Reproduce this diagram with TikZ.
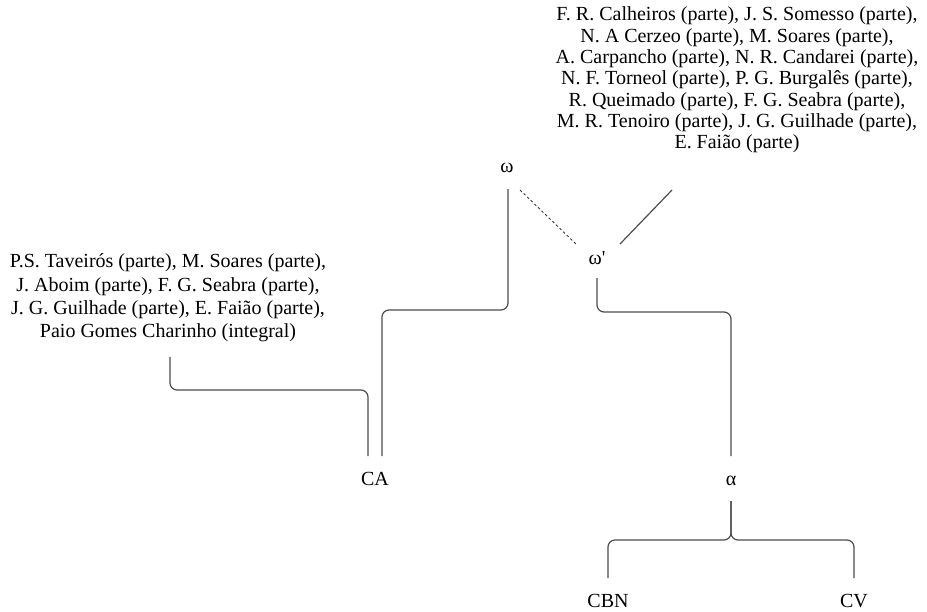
\documentclass[tikz,border=0pt]{standalone}
\usepackage{fontspec}
\setmainfont{Liberation Serif}
\usetikzlibrary{calc}
\begin{document}
\begin{tikzpicture}[x=1pt,y=-1pt,
  every node/.style={font=\fontsize{20}{21.3}\selectfont, inner sep=0pt},
  lbl/.style={align=center},
  link/.style={draw=black!70, line width=1.2pt, rounded corners=7pt},
  guess/.style={draw=black!80, line width=0.9pt, dash pattern=on 2.5pt off 2.5pt}]
\useasboundingbox (0,0) rectangle (927,611);

% labels
\node[lbl] (sources) at (737,80) {F. R. Calheiros (parte), J. S. Somesso (parte),\\
  N. A Cerzeo (parte), M. Soares (parte),\\
  A. Carpancho (parte), N. R. Candarei (parte),\\
  N. F. Torneol (parte), P. G. Burgalês (parte),\\
  R. Queimado (parte), F. G. Seabra (parte),\\
  M. R. Tenoiro (parte), J. G. Guilhade (parte),\\
  E. Faião (parte)};
\node (omega) at (507,168) {ω};
\node (omegap) at (597,258) {ω\textquotesingle};
\node[lbl, font=\fontsize{20}{23.3}\selectfont] (poets) at (168,298) {P.S. Taveirós (parte), M. Soares (parte),\\
  J. Aboim (parte), F. G. Seabra (parte),\\
  J. G. Guilhade (parte), E. Faião (parte),\\
  Paio Gomes Charinho (integral)};
\node (CA) at (375,479) {CA};
\node (alpha) at (731,481) {α};
\node (CBN) at (608,601) {CBN};
\node (CV) at (854,601) {CV};

% connectors
\draw[link] ($(omega)+(1,21)$) -- ($(omega)+(1,142)$) -- ($(CA)+(7,-169)$) -- ($(CA)+(7,-23)$);
\draw[link] ($(poets)+(2,59)$) -- ($(poets)+(2,92)$) -- ($(CA)+(-7,-89)$) -- ($(CA)+(-7,-23)$);
\draw[link] ($(omegap)+(0,20)$) -- ($(omegap)+(0,54)$) -- ($(alpha)+(0,-169)$) -- ($(alpha)+(0,-25)$);
\draw[link] ($(alpha)+(0,20)$) -- ($(alpha)+(0,59)$) -- ($(CBN)+(0,-61)$) -- ($(CBN)+(0,-23)$);
\draw[link] ($(alpha)+(0,20)$) -- ($(alpha)+(0,59)$) -- ($(CV)+(0,-61)$) -- ($(CV)+(0,-23)$);
\draw[guess] ($(omega)+(13,22)$) -- ($(omegap)+(-21,-14)$);
\draw[link] ($(sources)+(-65,110)$) -- ($(omegap)+(23,-14)$);
\end{tikzpicture}
\end{document}
